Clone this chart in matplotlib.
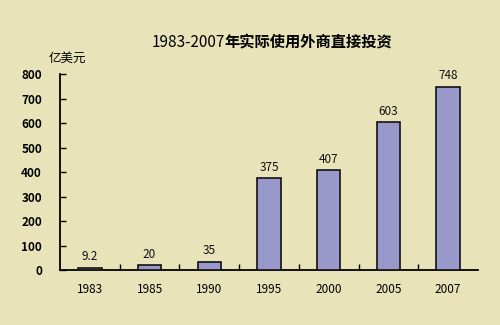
import matplotlib.pyplot as plt
import numpy as np

plt.rcParams['font.family'] = ['Noto Sans CJK SC', 'DejaVu Sans']

# Data
years = ["1983", "1985", "1990", "1995", "2000", "2005", "2007"]
values = [9.2, 20, 35, 375, 407, 603, 748]
value_labels = ["9.2", "20", "35", "375", "407", "603", "748"]

bg = "#E9E3B9"

fig = plt.figure(figsize=(5, 3.25), dpi=100)
fig.patch.set_facecolor(bg)
ax = fig.add_axes([0.12, 0.169, 0.836, 0.603])
ax.set_facecolor(bg)

x = np.arange(len(years))
ax.bar(x, values, width=0.39, color="#9898CA", edgecolor="#111111", linewidth=1.2, zorder=3)

for xi, v, lab in zip(x, values, value_labels):
    ax.text(xi, v + 18, lab, ha="center", va="bottom", fontsize=8.5, color="#111111")

ax.set_xlim(-0.5, len(years) - 0.5)
ax.set_ylim(0, 800)
ax.set_yticks(range(0, 801, 100))
ax.set_xticks(x)
ax.set_xticklabels(years)
ax.set_xticks(np.arange(0.5, len(years) - 0.5, 1), minor=True)

ax.tick_params(axis="x", which="major", length=0, pad=9, labelsize=8.5)
ax.tick_params(axis="x", which="minor", direction="in", length=4, width=1)
ax.tick_params(axis="y", direction="in", length=4, width=1, labelsize=8.5, pad=13)
for lab in ax.get_yticklabels():
    lab.set_fontweight("bold")

for s in ["top", "right"]:
    ax.spines[s].set_visible(False)
ax.spines["left"].set_linewidth(1.3)
ax.spines["bottom"].set_linewidth(1.3)

fig.text(0.304, 0.868, "1983-2007", fontsize=11, ha="left", va="center")
fig.text(0.448, 0.868, "年实际使用外商直接投资", fontsize=11, fontweight="bold",
         ha="left", va="center")
fig.text(0.097, 0.822, "亿美元", fontsize=9, ha="left", va="center")

fig.savefig("out.png", dpi=100, facecolor=bg)
